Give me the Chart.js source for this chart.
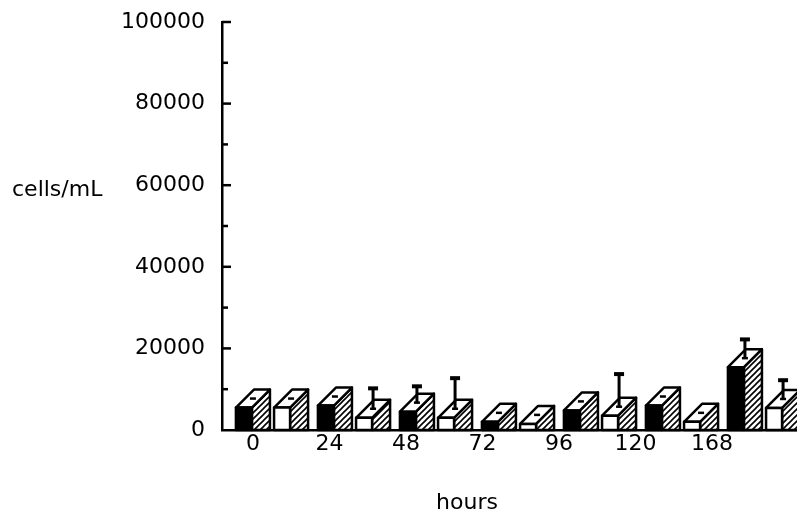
<!DOCTYPE html>
<html>
<head>
<meta charset="utf-8">
<script src="https://cdn.jsdelivr.net/npm/chart.js@4.4.0/dist/chart.umd.min.js"></script>
<style>
  html, body { margin: 0; padding: 0; background: #fff; }
  #wrap { width: 797px; height: 521px; }
</style>
</head>
<body>
<div id="wrap"><canvas id="cellChart" width="797" height="521"></canvas></div>
<script>
// ---- data ----
const hours = ['0', '24', '48', '72', '96', '120', '168'];
const darkValues = [5500, 6000, 4500, 2000, 4800, 6000, 15400];
const lightValues = [5500, 3000, 3000, 1500, 3500, 2000, 5400];
const darkErrors = [0, 0, 4000, 0, 0, 0, 4600];
const lightErrors = [0, 5000, 7500, 0, 8000, 0, 4600];
const yLabels = [0, 20000, 40000, 60000, 80000, 100000];

const FONT = { family: 'DejaVu Sans', size: 22 };
const DX = 18, DY = 18;   // depth of the fake 3D boxes

function makeHatch(ctx) {
    const c = document.createElement('canvas');
    c.width = 6; c.height = 6;
    const g = c.getContext('2d');
    g.fillStyle = '#fff';
    g.fillRect(0, 0, 6, 6);
    g.strokeStyle = '#000';
    g.lineWidth = 1.6;
    g.beginPath();
    g.moveTo(-1, 7); g.lineTo(7, -1);
    g.moveTo(-1, 1); g.lineTo(1, -1);
    g.moveTo(5, 7); g.lineTo(7, 5);
    g.stroke();
    return ctx.createPattern(c, 'repeat');
}

function drawBox(ctx, bar, fill, hatch) {
    const half = bar.width / 2;
    const x0 = bar.x - half, x1 = bar.x + half;
    const top = bar.y, base = bar.base;
    ctx.lineWidth = 2.5;
    ctx.strokeStyle = '#000';
    ctx.lineJoin = 'round';

    // side face
    ctx.beginPath();
    ctx.moveTo(x1, top);
    ctx.lineTo(x1 + DX, top - DY);
    ctx.lineTo(x1 + DX, base);
    ctx.lineTo(x1, base);
    ctx.closePath();
    ctx.fillStyle = hatch;
    ctx.fill();
    ctx.stroke();

    // top face
    ctx.beginPath();
    ctx.moveTo(x0, top);
    ctx.lineTo(x0 + DX, top - DY);
    ctx.lineTo(x1 + DX, top - DY);
    ctx.lineTo(x1, top);
    ctx.closePath();
    ctx.fillStyle = '#fff';
    ctx.fill();
    ctx.stroke();
    // little mark on the lid, like the print
    ctx.beginPath();
    ctx.moveTo(bar.x + DX / 2 - 3, top - DY / 2);
    ctx.lineTo(bar.x + DX / 2 + 3, top - DY / 2);
    ctx.stroke();

    // front face
    ctx.fillStyle = fill;
    ctx.fillRect(x0, top, x1 - x0, base - top);
    ctx.strokeRect(x0, top, x1 - x0, base - top);
}

function drawError(ctx, bar, yScale, value, err) {
    if (!err) return;
    const cx = bar.x + DX / 2;
    const y0 = bar.y - DY / 2;
    const y1 = yScale.getPixelForValue(value + err) - DY / 2;
    ctx.strokeStyle = '#000';
    ctx.lineWidth = 3;
    ctx.beginPath();
    ctx.moveTo(cx, y0);
    ctx.lineTo(cx, y1);
    ctx.stroke();
    ctx.lineWidth = 4;
    ctx.beginPath();
    ctx.moveTo(cx - 5, y1);
    ctx.lineTo(cx + 5, y1);
    ctx.stroke();
}

const boxPlugin = {
    id: 'boxes',
    afterDatasetsDraw(chart) {
        const ctx = chart.ctx;
        const hatch = makeHatch(ctx);
        const metaDark = chart.getDatasetMeta(0);
        const metaLight = chart.getDatasetMeta(1);
        const yScale = chart.scales.y;
        ctx.save();
        hours.forEach((h, i) => {
            drawBox(ctx, metaDark.data[i], '#000', hatch);
            drawBox(ctx, metaLight.data[i], '#fff', hatch);
        });
        hours.forEach((h, i) => {
            drawError(ctx, metaDark.data[i], yScale, darkValues[i], darkErrors[i]);
            drawError(ctx, metaLight.data[i], yScale, lightValues[i], lightErrors[i]);
        });
        ctx.restore();
    },
    afterDraw(chart) {
        const ctx = chart.ctx;
        const y = chart.scales.y;
        ctx.save();
        ctx.strokeStyle = '#000';
        ctx.lineWidth = 2.5;
        y.ticks.forEach(t => {
            if (t.value === 0) return;
            const py = y.getPixelForValue(t.value);
            const len = yLabels.includes(t.value) ? 9 : 6;
            ctx.beginPath();
            ctx.moveTo(y.right, py);
            ctx.lineTo(y.right + len, py);
            ctx.stroke();
        });
        // axis titles sit off-centre in the print, so place them by hand
        ctx.fillStyle = '#000';
        ctx.font = FONT.size + 'px "' + FONT.family + '"';
        ctx.textBaseline = 'middle';
        ctx.textAlign = 'left';
        ctx.fillText('cells/mL', 12, 190);
        ctx.textAlign = 'center';
        ctx.fillText('hours', 467, 503);
        ctx.restore();
    }
};

const ctxCells = document.getElementById('cellChart').getContext('2d');
window.cellChart = new Chart(ctxCells, {
    type: 'bar',
    data: {
        labels: hours,
        datasets: [{
            label: 'dark',
            data: darkValues,
            backgroundColor: 'rgba(0,0,0,0)',
            borderWidth: 0,
            categoryPercentage: 0.93,
            barPercentage: 0.42
        }, {
            label: 'light',
            data: lightValues,
            backgroundColor: 'rgba(0,0,0,0)',
            borderWidth: 0,
            categoryPercentage: 0.93,
            barPercentage: 0.42
        }]
    },
    options: {
        responsive: false,
        animation: false,
        layout: { padding: { top: 22, right: 1, bottom: 0, left: 0 } },
        plugins: {
            legend: { display: false },
            tooltip: { enabled: false }
        },
        scales: {
            x: { type: 'category', display: false },
            // tick labels of the print are spaced a bit tighter than the boxes
            xt: {
                type: 'linear',
                position: 'bottom',
                offset: false,
                bounds: 'data',
                min: -0.405,
                max: 7.098,
                afterBuildTicks: s => { s.ticks = hours.map((h, i) => ({ value: i })); },
                afterFit: s => { s.height = 91; s.paddingLeft = 0; s.paddingRight = 0; },
                grid: { display: false, drawTicks: false, offset: false },
                border: { display: true, color: '#000', width: 2.5 },
                ticks: {
                    autoSkip: false,
                    maxRotation: 0,
                    padding: 1,
                    color: '#000',
                    font: FONT,
                    callback: v => hours[v] !== undefined ? hours[v] : ''
                }
            },
            y: {
                min: 0,
                max: 100000,
                afterFit: s => { s.width = 222; s.paddingTop = 0; s.paddingBottom = 0; },
                grid: { display: false, drawTicks: false },
                border: { display: true, color: '#000', width: 2.5 },
                ticks: {
                    stepSize: 10000,
                    autoSkip: false,
                    padding: 17,
                    color: '#000',
                    font: FONT,
                    callback: v => yLabels.includes(v) ? String(v) : ''
                }
            }
        }
    },
    plugins: [boxPlugin]
});
</script>
</body>
</html>
